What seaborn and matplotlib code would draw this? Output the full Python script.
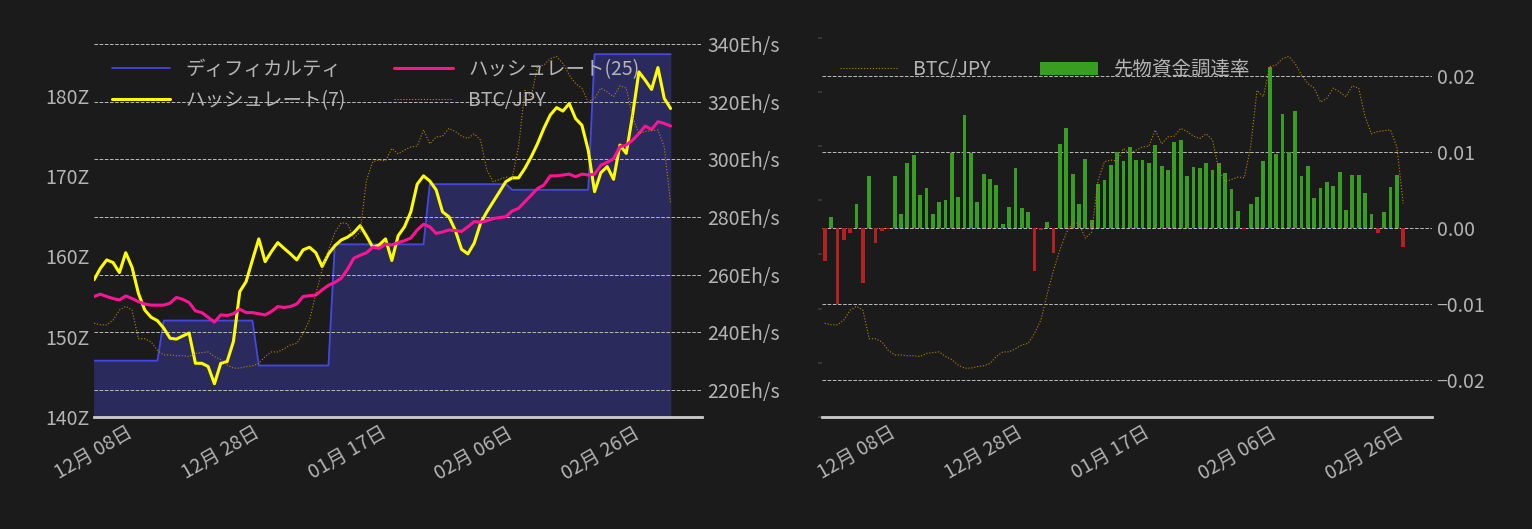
import numpy as np
import pandas as pd
import matplotlib
matplotlib.use("Agg")
import matplotlib.pyplot as plt
import matplotlib.dates as mdates
from matplotlib.ticker import FuncFormatter
from matplotlib.patches import Patch
import seaborn as sns

sns.set_theme(style="dark")
plt.rcParams['font.family'] = ['Noto Sans CJK JP', 'DejaVu Sans']

dates_left = pd.date_range("2023-12-08", periods=92, freq="D")
dates_right = pd.date_range("2023-12-03", periods=92, freq="D")

difficulty = [147.0]*11 + [152.0]*15 + [146.4]*12 + [161.5]*15 + [169.0]*13 + [168.3]*13 + [185.2]*13

hash7 = [258.2, 262.2, 265.1, 264.2, 260.7, 267.6, 262.5, 253.5, 247.7, 245.2, 244.0, 241.4, 237.9, 237.6,
         238.7, 239.7, 229.2, 229.2, 228.1, 222.1, 229.2, 229.8, 236.8, 254.1, 257.6, 265.1, 272.4, 264.5,
         268.0, 271.1, 269.1, 267.2, 265.1, 268.6, 269.5, 267.6, 262.8, 267.2, 270.0, 272.0, 273.0, 274.6,
         277.0, 273.4, 269.5, 270.3, 272.4, 264.9, 273.5, 276.6, 281.8, 291.4, 294.3, 292.5, 289.4, 281.8,
         280.1, 275.5, 268.8, 267.2, 270.9, 277.8, 281.8, 285.3, 288.8, 292.3, 293.6, 293.6, 296.9, 300.9,
         305.5, 310.8, 315.4, 318.0, 316.8, 319.4, 314.2, 311.9, 303.2, 288.8, 295.4, 297.5, 293.1, 305.0,
         302.1, 315.4, 330.4, 327.5, 324.3, 331.9, 321.2, 317.7]

hash25 = [252.4, 253.2, 252.4, 251.7, 251.2, 252.6, 251.7, 250.6, 249.8, 249.4, 249.4, 249.4, 250.1, 252.1,
          251.4, 250.3, 247.4, 246.8, 245.2, 243.5, 246.0, 245.8, 246.4, 248.0, 246.8, 246.8, 246.4, 246.0,
          247.2, 248.9, 248.6, 248.9, 249.8, 252.4, 252.7, 252.9, 254.7, 256.3, 257.3, 258.7, 261.8, 265.7,
          266.7, 267.6, 269.5, 269.1, 270.6, 270.3, 271.1, 271.8, 272.7, 275.5, 277.5, 276.6, 274.3, 274.8,
          275.5, 275.3, 275.0, 276.6, 278.4, 278.2, 278.7, 279.5, 279.8, 280.1, 282.1, 283.0, 285.3, 287.6,
          289.9, 291.1, 294.3, 294.3, 294.6, 294.9, 294.0, 294.9, 294.6, 294.9, 298.0, 299.0, 300.3, 304.4,
          305.0, 306.7, 309.0, 311.6, 310.4, 313.1, 312.5, 311.6]

btc = [6.21, 6.19, 6.19, 6.25, 6.38, 6.43, 6.38, 6.01, 6.01, 5.97, 5.86, 5.80, 5.80, 5.79, 5.79, 5.78,
       5.82, 5.83, 5.84, 5.78, 5.74, 5.67, 5.63, 5.63, 5.65, 5.66, 5.69, 5.78, 5.84, 5.84, 5.88, 5.93,
       5.95, 6.08, 6.25, 6.59, 6.90, 7.16, 7.38, 7.51, 7.50, 7.31, 7.39, 8.06, 8.30, 8.32, 8.31, 8.47,
       8.40, 8.45, 8.49, 8.50, 8.71, 8.53, 8.62, 8.63, 8.73, 8.69, 8.63, 8.60, 8.66, 8.58, 8.19, 8.04,
       8.07, 8.10, 8.09, 8.49, 9.22, 9.14, 9.53, 9.55, 9.63, 9.66, 9.57, 9.42, 9.31, 9.25, 9.07, 9.12,
       9.25, 9.20, 9.14, 9.28, 9.25, 8.88, 8.66, 8.69, 8.70, 8.71, 8.49, 7.76]

funding = [-0.0044, 0.0014, -0.0100, -0.0016, -0.0006, 0.0032, -0.0073, 0.0068, -0.0020, -0.0004, -0.0001,
           0.0069, 0.0018, 0.0086, 0.0096, 0.0044, 0.0053, 0.0019, 0.0034, 0.0037, 0.0099, 0.0041, 0.0149,
           0.0099, 0.0034, 0.0071, 0.0065, 0.0057, 0.0006, 0.0028, 0.0079, 0.0026, 0.0021, -0.0057, -0.0003,
           0.0008, -0.0033, 0.0111, 0.0132, 0.0071, 0.0032, 0.0091, 0.0011, 0.0058, 0.0064, 0.0083, 0.0100,
           0.0089, 0.0107, 0.0090, 0.0090, 0.0086, 0.0110, 0.0082, 0.0077, 0.0114, 0.0116, 0.0069, 0.0081,
           0.0079, 0.0086, 0.0077, 0.0086, 0.0072, 0.0052, 0.0023, -0.0001, 0.0032, 0.0041, 0.0088, 0.0212,
           0.0098, 0.0151, 0.0100, 0.0154, 0.0068, 0.0082, 0.0040, 0.0053, 0.0061, 0.0056, 0.0074, 0.0024,
           0.0070, 0.0070, 0.0046, 0.0018, -0.0006, 0.0021, 0.0054, 0.0070, -0.0025]

BG = "#1b1b1b"
TXT = "#b4b4b4"
BTC_C = "#b8860b"
GREEN = "#3a9d23"
RED = "#b22222"
FS = 14

fig = plt.figure(figsize=(15.32, 5.29), dpi=100, facecolor=BG)
axL = fig.add_axes([0.0614, 0.212, 0.397, 0.731])
axL2 = axL.twinx()
axL3 = axL.twinx()
axR = fig.add_axes([0.5366, 0.212, 0.398, 0.731])
axR2 = axR.twinx()

for a in (axL, axL2, axL3, axR, axR2):
    a.set_facecolor(BG if a in (axL, axR) else "none")
    for s in a.spines.values():
        s.set_visible(False)
    a.tick_params(colors=TXT, labelsize=FS, length=0)
    a.grid(False)

fmt = mdates.DateFormatter("%m月 %d日")
ticks = pd.to_datetime(["2023-12-08", "2023-12-28", "2024-01-17", "2024-02-06", "2024-02-26"])

# ---- Left panel ----
dfL = pd.DataFrame({"date": dates_left, "diff": difficulty, "h7": hash7, "h25": hash25, "btc": btc})
axL.fill_between(dfL["date"], 0, dfL["diff"], color="#2a2a5c", zorder=1)
sns.lineplot(data=dfL, x="date", y="diff", ax=axL, color="#4646e0", lw=1.3, label="ディフィカルティ", legend=False)
axL.set_ylim(140, 188.2)
axL.set_yticks([140, 150, 160, 170, 180])
axL.yaxis.set_major_formatter(FuncFormatter(lambda v, p: f"{v:.0f}Z"))
axL.set_xlim(pd.Timestamp("2023-12-08"), pd.Timestamp("2024-03-13"))
axL.set_xticks(ticks)
axL.xaxis.set_major_formatter(fmt)
axL.spines["bottom"].set_visible(True)
axL.spines["bottom"].set_color("#cccccc")
axL.spines["bottom"].set_linewidth(2)
axL.tick_params(axis="x", pad=4)
plt.setp(axL.get_xticklabels(), rotation=30, ha="center")
axL.set_xlabel(""); axL.set_ylabel("")

sns.lineplot(data=dfL, x="date", y="h7", ax=axL2, color="#ffff00", lw=2.2, label="ハッシュレート(7)", legend=False)
sns.lineplot(data=dfL, x="date", y="h25", ax=axL2, color="#ff1493", lw=2.2, label="ハッシュレート(25)", legend=False)
axL2.set_ylim(210.6, 344.9)
axL2.set_yticks([220, 240, 260, 280, 300, 320, 340])
axL2.yaxis.set_major_formatter(FuncFormatter(lambda v, p: f"{v:.0f}Eh/s"))
axL2.grid(True, axis="y", color="#bbbbbb", ls="--", lw=0.7)
axL2.set_ylabel("")

sns.lineplot(data=dfL, x="date", y="btc", ax=axL3, color=BTC_C, lw=0.8, ls=":", label="BTC/JPY", legend=False)
axL3.set_ylim(5.0, 10.0)
axL3.set_yticks([])
axL3.set_ylabel("")

h1, l1 = axL.get_legend_handles_labels()
h2, l2 = axL2.get_legend_handles_labels()
h3, l3 = axL3.get_legend_handles_labels()
handles = [h1[0], h2[0], h2[1], h3[0]]
labels = [l1[0], l2[0], l2[1], l3[0]]
axL3.legend(handles, labels, ncol=2, loc="upper left", frameon=False, fontsize=FS,
            labelcolor=TXT, bbox_to_anchor=(0.0, 0.97), columnspacing=2.5, handlelength=3,
            labelspacing=0.5)

# ---- Right panel ----
dfR = pd.DataFrame({"date": dates_right, "btc": btc, "fr": funding})
sns.lineplot(data=dfR, x="date", y="btc", ax=axR, color=BTC_C, lw=0.8, ls=":", label="BTC/JPY", legend=False)
axR.set_ylim(5.0, 10.0)
axR.set_yticks(np.arange(5.0, 10.01, 0.7))
axR.yaxis.set_major_formatter(FuncFormatter(lambda v, p: ""))
axR.tick_params(axis="y", length=3, color="#3a3a3a")
axR.set_xlim(pd.Timestamp("2023-12-02 14:00"), pd.Timestamp("2024-03-07 12:00"))
axR.set_xticks(ticks)
axR.xaxis.set_major_formatter(fmt)
axR.spines["bottom"].set_visible(True)
axR.spines["bottom"].set_color("#cccccc")
axR.spines["bottom"].set_linewidth(2)
axR.tick_params(axis="x", pad=4)
plt.setp(axR.get_xticklabels(), rotation=30, ha="center")
axR.set_xlabel(""); axR.set_ylabel("")

cols = [GREEN if v >= 0 else RED for v in funding]
axR2.bar(dfR["date"], dfR["fr"], width=0.6, color=cols, edgecolor="none", linewidth=0)
axR2.set_ylim(-0.0249, 0.0261)
axR2.set_yticks([-0.02, -0.01, 0.0, 0.01, 0.02])
axR2.yaxis.set_major_formatter(FuncFormatter(lambda v, p: f"{v:.2f}".replace("-", "\u2212")))
axR2.grid(True, axis="y", color="#bbbbbb", ls="--", lw=0.7)
axR2.set_ylabel("")
axR.set_zorder(axR2.get_zorder() + 1)
axR.patch.set_visible(False)
axR2.patch.set_visible(True)
axR2.patch.set_facecolor(BG)

hb, lb = axR.get_legend_handles_labels()
axR.legend(hb + [Patch(facecolor=GREEN, edgecolor="none")], lb + ["先物資金調達率"], ncol=2,
           loc="upper left", frameon=False, fontsize=FS, labelcolor=TXT,
           bbox_to_anchor=(0.0, 0.97), columnspacing=2.5, handlelength=3)

fig.savefig("out.png", dpi=100, facecolor=BG)
